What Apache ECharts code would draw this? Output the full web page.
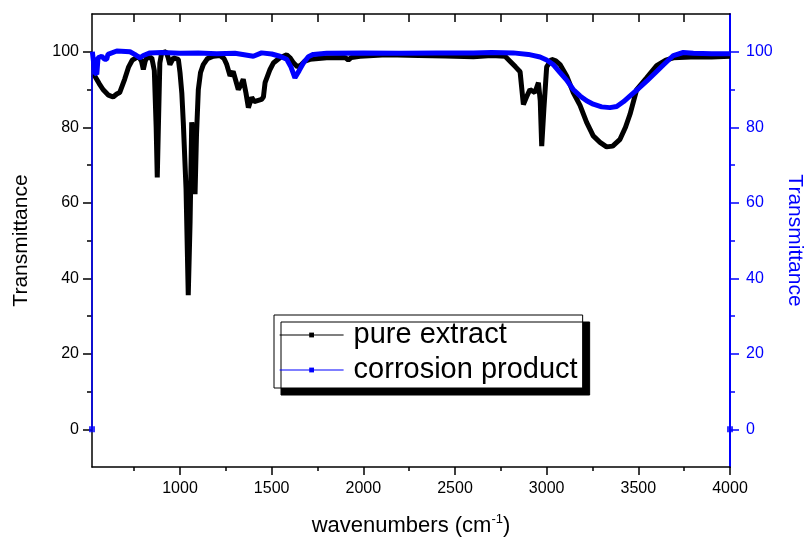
<!DOCTYPE html>
<html>
<head>
<meta charset="utf-8">
<script src="https://cdn.jsdelivr.net/npm/echarts@6/dist/echarts.min.js"></script>
<style>html,body{margin:0;padding:0;background:#fff}#c{width:805px;height:544px}</style>
</head>
<body>
<div id="c"></div>
<script>
// ---- data ----
const xMin = 520, xMax = 4000;
const yMin = -10, yMax = 110;
const xMajor = [1000, 1500, 2000, 2500, 3000, 3500, 4000];
const xMinor = [750, 1250, 1750, 2250, 2750, 3250, 3750];
const xTop = [750, 1000, 1250, 1500, 1750, 2000, 2250, 2500, 2750, 3000, 3250, 3500, 3750];
const yMajor = [0, 20, 40, 60, 80, 100];
const yMinor = [10, 30, 50, 70, 90];

const seriesNames = ['pure extract', 'corrosion product'];

const pureWn = [522, 535, 560, 580, 610, 635, 655, 671, 698, 720, 740, 773, 790, 800, 810, 818, 846, 860, 870, 876, 882, 890, 900, 924, 935, 945, 955, 964, 991, 1000, 1010, 1018, 1033, 1045, 1055, 1064, 1072, 1082, 1090, 1100, 1112, 1127, 1150, 1182, 1218, 1240, 1255, 1273, 1290, 1300, 1318, 1330, 1345, 1360, 1373, 1391, 1405, 1418, 1445, 1455, 1464, 1491, 1509, 1545, 1582, 1600, 1620, 1640, 1660, 1680, 1709, 1800, 1900, 1918, 1935, 1982, 2127, 2300, 2450, 2600, 2700, 2773, 2800, 2830, 2855, 2873, 2890, 2909, 2925, 2936, 2955, 2965, 2973, 2985, 3000, 3027, 3050, 3073, 3109, 3145, 3182, 3218, 3254, 3291, 3327, 3360, 3400, 3430, 3455, 3491, 3545, 3600, 3650, 3691, 3818, 3900, 4000];
const pureT = [94, 93.6, 91.5, 90, 88.5, 88, 88.8, 89.2, 92.7, 96, 97.8, 98.8, 97.5, 95.3, 97.5, 98.4, 98.4, 95, 80, 66.7, 80, 97, 99.7, 100, 98.5, 96.6, 97.5, 98.4, 98, 94.5, 89, 81.3, 63.6, 35.5, 55, 81.3, 78, 62.3, 78, 90, 94.5, 96.6, 98.2, 98.8, 99, 98.2, 96.6, 93.6, 94.8, 94.5, 90, 91, 92.7, 89, 85.2, 87.9, 86.8, 87, 87.4, 88, 91.8, 95.3, 97, 98.4, 99.2, 98.4, 97, 96, 96.5, 97.5, 98, 98.4, 98.5, 97.8, 98.5, 98.8, 99.2, 99, 98.9, 98.7, 99, 98.8, 97.5, 96, 94.7, 86, 88, 90, 89.5, 89.2, 91.8, 87, 75, 85, 96, 98, 97.6, 96.6, 93.6, 89.2, 85.8, 81.3, 77.7, 76, 74.8, 75, 76.8, 80, 83.5, 90, 93.1, 96.3, 97.8, 98.4, 98.7, 98.6, 98.8];

const corrWn = [522, 535, 546, 553, 573, 589, 600, 607, 655, 727, 753, 782, 800, 836, 900, 1000, 1100, 1200, 1300, 1400, 1445, 1500, 1545, 1582, 1605, 1627, 1650, 1673, 1700, 1727, 1800, 2000, 2200, 2400, 2600, 2700, 2818, 2900, 2964, 3000, 3036, 3073, 3109, 3145, 3182, 3218, 3254, 3300, 3345, 3382, 3420, 3455, 3500, 3545, 3590, 3636, 3691, 3745, 3800, 3900, 4000];
const corrT = [100, 94.5, 94, 98.4, 98.8, 98, 98, 99.3, 100.2, 100, 99.3, 98.4, 99, 99.7, 99.8, 99.6, 99.7, 99.5, 99.6, 98.8, 99.7, 99.4, 98.8, 98, 96, 93.1, 95, 97, 98.7, 99.3, 99.6, 99.7, 99.6, 99.7, 99.7, 99.8, 99.7, 99.3, 98.6, 97.8, 96.6, 94.5, 92.5, 90, 88.3, 87, 86.1, 85.4, 85.2, 85.5, 86.8, 88.3, 90.2, 92.2, 94.3, 96.5, 99, 99.8, 99.6, 99.5, 99.5];

// end points of the corrosion-product trace (drawn at 0)
const corrEdgeWn = [520, 520];
const corrEdgeT = [0, 100];
const corrMarkWn = [520, 4000];
const corrMarkT = [0, 0];

// ---- chart ----
const BLUE = '#0000ff';
const FONT = "'Liberation Sans', Arial, sans-serif";
const zip = (a, b) => a.map((v, i) => [v, b[i]]);
const plain = v => String(v);
const gridBox = { left: 92, right: 75, top: 14, bottom: 77, outerBoundsMode: 'none' };

const chart = echarts.init(document.getElementById('c'), null, { renderer: 'canvas' });
chart.setOption({
  animation: false,
  backgroundColor: '#fff',
  grid: [Object.assign({}, gridBox), Object.assign({}, gridBox)],
  xAxis: [
    {
      gridIndex: 0, type: 'value', position: 'bottom', min: xMin, max: xMax,
      name: '{a|wavenumbers (cm}{s|-1}{a|)}',
      nameLocation: 'middle', nameGap: 46,
      nameTextStyle: { rich: {
        a: { fontSize: 22, fontFamily: FONT, color: '#000' },
        s: { fontSize: 13, fontFamily: FONT, color: '#000', padding: [0, 0, 13, 0] }
      } },
      axisLine: { show: true, onZero: false, lineStyle: { color: '#000', width: 1.5 } },
      axisTick: { show: true, length: 8, customValues: xMajor, lineStyle: { color: '#000', width: 1.5 } },
      axisLabel: { show: true, customValues: xMajor, formatter: plain, margin: 14, color: '#000', fontSize: 16, fontFamily: FONT },
      splitLine: { show: false }
    },
    {
      gridIndex: 0, type: 'value', position: 'top', min: xMin, max: xMax,
      axisLine: { show: true, onZero: false, lineStyle: { color: '#000', width: 1.5 } },
      axisTick: { show: true, inside: true, length: 8, customValues: xTop, lineStyle: { color: '#000', width: 1.5 } },
      axisLabel: { show: false },
      splitLine: { show: false }
    },
    {
      gridIndex: 1, type: 'value', position: 'bottom', min: xMin, max: xMax,
      axisLine: { show: false, onZero: false },
      axisTick: { show: true, length: 4, customValues: xMinor, lineStyle: { color: '#000', width: 1.5 } },
      axisLabel: { show: false },
      splitLine: { show: false }
    }
  ],
  yAxis: [
    {
      gridIndex: 0, type: 'value', position: 'left', min: yMin, max: yMax,
      name: 'Transmittance', nameLocation: 'middle', nameGap: 60,
      nameTextStyle: { fontSize: 21, fontFamily: FONT, color: '#000' },
      axisLine: { show: true, onZero: false, lineStyle: { color: '#000', width: 1.5 } },
      axisTick: { show: true, length: 9, customValues: yMajor, lineStyle: { color: '#000', width: 1.5 } },
      axisLabel: { show: true, customValues: yMajor, formatter: plain, margin: 13, color: '#000', fontSize: 16, fontFamily: FONT },
      splitLine: { show: false }
    },
    {
      gridIndex: 0, type: 'value', position: 'right', min: yMin, max: yMax,
      name: 'Transmittance', nameLocation: 'middle', nameGap: 54, nameRotate: -90,
      nameTextStyle: { fontSize: 21, fontFamily: FONT, color: BLUE },
      axisLine: { show: true, onZero: false, lineStyle: { color: BLUE, width: 2 } },
      axisTick: { show: true, length: 9, customValues: yMajor, lineStyle: { color: BLUE, width: 1.5 } },
      axisLabel: { show: true, customValues: yMajor, formatter: plain, margin: 16, color: BLUE, fontSize: 16, fontFamily: FONT },
      splitLine: { show: false }
    },
    {
      gridIndex: 1, type: 'value', position: 'left', min: yMin, max: yMax,
      axisLine: { show: false, onZero: false },
      axisTick: { show: true, length: 5, customValues: yMinor, lineStyle: { color: '#000', width: 1.5 } },
      axisLabel: { show: false },
      splitLine: { show: false }
    },
    {
      gridIndex: 1, type: 'value', position: 'right', min: yMin, max: yMax,
      axisLine: { show: false, onZero: false },
      axisTick: { show: true, length: 5, customValues: yMinor, lineStyle: { color: BLUE, width: 1.5 } },
      axisLabel: { show: false },
      splitLine: { show: false }
    }
  ],
  legend: {
    orient: 'vertical', left: 274, top: 315,
    data: seriesNames,
    itemWidth: 64, itemHeight: 6, itemGap: 5,
    padding: [5, 5, 3, 5],
    backgroundColor: '#fff', borderColor: '#000', borderWidth: 1, borderRadius: 0,
    shadowColor: '#000', shadowOffsetX: 7, shadowOffsetY: 7, shadowBlur: 0,
    textStyle: { fontSize: 29, fontFamily: FONT, color: '#000', padding: [0, 0, 0, 5], lineHeight: 30 },
    lineStyle: { width: 1.2 },
    selectedMode: false
  },
  series: [
    {
      name: seriesNames[0], type: 'line', xAxisIndex: 0, yAxisIndex: 0,
      data: zip(pureWn, pureT),
      showSymbol: false, symbol: 'rect', symbolSize: 5,
      lineStyle: { color: '#000', width: 5 }, itemStyle: { color: '#000' },
      z: 2, silent: true
    },
    {
      name: seriesNames[1], type: 'line', xAxisIndex: 0, yAxisIndex: 1,
      data: zip(corrWn, corrT),
      showSymbol: false, symbol: 'rect', symbolSize: 5,
      lineStyle: { color: BLUE, width: 5 }, itemStyle: { color: BLUE },
      z: 3, silent: true
    },
    {
      name: 'corrEdge', type: 'line', xAxisIndex: 0, yAxisIndex: 1,
      data: zip(corrEdgeWn, corrEdgeT),
      showSymbol: false, symbol: 'none',
      lineStyle: { color: BLUE, width: 1.5 }, z: 3, silent: true
    },
    {
      name: 'corrMark', type: 'scatter', xAxisIndex: 0, yAxisIndex: 1,
      data: zip(corrMarkWn, corrMarkT),
      symbol: 'rect', symbolSize: 6, itemStyle: { color: BLUE },
      clip: false, z: 6, silent: true
    }
  ]
});
</script>
</body>
</html>
